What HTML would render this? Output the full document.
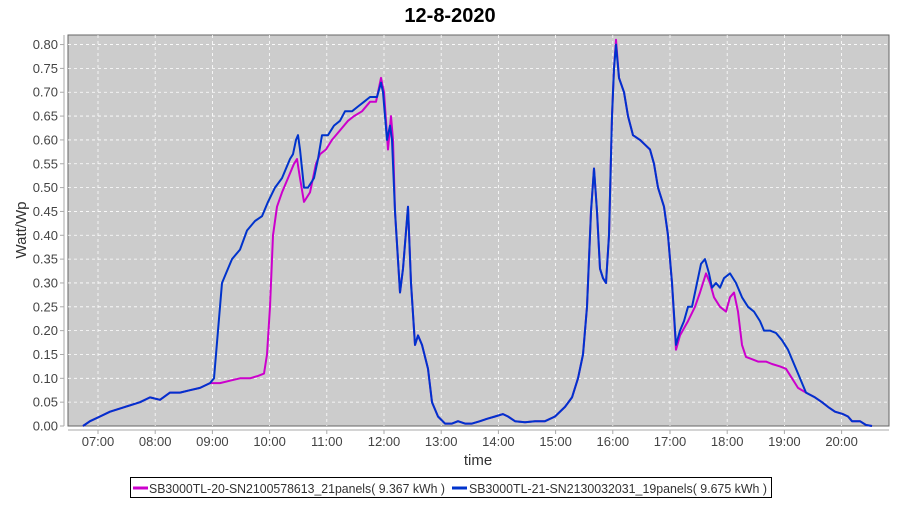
<!DOCTYPE html>
<html><head><meta charset="utf-8"><style>
body{margin:0;background:#fff;width:900px;height:500px;overflow:hidden;font-family:"Liberation Sans",sans-serif}
</style></head><body>
<svg id="s" width="900" height="500" xmlns="http://www.w3.org/2000/svg" font-family="Liberation Sans, sans-serif">
<text x="450" y="22" text-anchor="middle" font-size="20" font-weight="bold">12-8-2020</text>
<rect x="68" y="35" width="821" height="391" fill="#cccccc" stroke="#666" stroke-width="1"/>
<g id="grid" stroke="#fff" stroke-width="0.8" stroke-dasharray="3,3"></g>
<line x1="64" y1="35" x2="64" y2="426" stroke="#aaa"/>
<line x1="68" y1="430" x2="889" y2="430" stroke="#aaa"/>
<g id="ticks" font-size="13" fill="#444"></g>
<text x="478" y="465" text-anchor="middle" font-size="15" fill="#333">time</text>
<text transform="translate(26,230) rotate(-90)" text-anchor="middle" font-size="15" fill="#333">Watt/Wp</text>
<path id="pm" fill="none" stroke="#cc00cc" stroke-width="2" stroke-linejoin="round"/>
<path id="pb" fill="none" stroke="#0033cc" stroke-width="2" stroke-linejoin="round"/>
<rect x="130.5" y="477.5" width="641" height="20" fill="#fff" stroke="#000"/>
<line x1="133" y1="488" x2="148" y2="488" stroke="#cc00cc" stroke-width="3"/>
<text x="149" y="493" font-size="12.5" fill="#333" textLength="296" lengthAdjust="spacingAndGlyphs">SB3000TL-20-SN2100578613_21panels( 9.367 kWh )</text>
<line x1="452" y1="488" x2="467" y2="488" stroke="#0033cc" stroke-width="3"/>
<text x="469" y="493" font-size="12.5" fill="#333" textLength="298" lengthAdjust="spacingAndGlyphs">SB3000TL-21-SN2130032031_19panels( 9.675 kWh )</text>
</svg>
<script>
var Y=v=>426-v*476.8;
var g=document.getElementById('grid'),t=document.getElementById('ticks'),ns='http://www.w3.org/2000/svg';
function el(p,n,a,txt){var e=document.createElementNS(ns,n);for(var k in a)e.setAttribute(k,a[k]);if(txt)e.textContent=txt;p.appendChild(e);}
for(var i=0;i<=16;i++){var v=i*0.05,y=Y(v);if(i>0)el(g,'line',{x1:68,x2:889,y1:y,y2:y});el(t,'line',{x1:60,x2:64,y1:y,y2:y,stroke:'#aaa'});el(t,'text',{x:58,y:y+4.5,'text-anchor':'end'},v.toFixed(2));}
for(var h=7;h<=20;h++){var x=98+(h-7)*57.2;el(g,'line',{x1:x,x2:x,y1:35,y2:426});el(t,'line',{x1:x,x2:x,y1:430,y2:434,stroke:'#aaa'});el(t,'text',{x:x,y:446,'text-anchor':'middle'},(h<10?'0':'')+h+':00');}
var common1=[[83,0],[90,0.01],[100,0.02],[110,0.03],[125,0.04],[140,0.05],[150,0.06],[160,0.055],[170,0.07],[180,0.07],[190,0.075],[200,0.08],[210,0.09]];
var mid=[[395,0.45],[400,0.28],[403,0.33],[408,0.46],[411,0.30],[415,0.17],[418,0.19],[422,0.17],[428,0.12],[432,0.05],[438,0.02],[445,0.005],[452,0.005],[458,0.01],[465,0.005],[472,0.005],[480,0.01],[487,0.015],[495,0.02],[503,0.025],[508,0.02],[515,0.01],[525,0.008],[535,0.01],[545,0.01],[555,0.02],[565,0.04],[572,0.06],[578,0.10],[583,0.15],[587,0.25],[591,0.45],[594,0.54],[597,0.45],[600,0.33],[603,0.31],[606,0.30],[609,0.40],[612,0.65],[614,0.75]];
var aft=[[619,0.73],[624,0.70],[628,0.65],[633,0.61],[640,0.60],[645,0.59],[650,0.58],[654,0.55],[658,0.50],[664,0.46],[668,0.40],[672,0.30]];
var tail=[[806,0.07],[815,0.06],[822,0.05],[828,0.04],[835,0.03],[843,0.025],[848,0.02],[852,0.01],[860,0.01],[866,0.002],[872,0]];
var blue=common1.concat([[214,0.10],[218,0.20],[222,0.30],[226,0.32],[232,0.35],[240,0.37],[247,0.41],[255,0.43],[262,0.44],[268,0.47],[275,0.50],[282,0.52],[290,0.56],[293,0.57],[296,0.60],[298,0.61],[300,0.58],[304,0.50],[308,0.50],[314,0.52],[318,0.56],[322,0.61],[328,0.61],[334,0.63],[340,0.64],[345,0.66],[352,0.66],[358,0.67],[364,0.68],[370,0.69],[377,0.69],[381,0.72],[383,0.70],[387,0.60],[390,0.63],[392,0.60]],mid,[[616,0.80]],aft,[[676,0.17],[680,0.20],[684,0.22],[688,0.25],[692,0.25],[697,0.30],[701,0.34],[705,0.35],[709,0.32],[712,0.29],[716,0.30],[720,0.29],[724,0.31],[730,0.32],[736,0.30],[742,0.27],[748,0.25],[754,0.24],[760,0.22],[764,0.20],[770,0.20],[776,0.195],[782,0.18],[788,0.16],[794,0.13],[800,0.10]],tail);
var mag=common1.concat([[220,0.09],[230,0.095],[240,0.10],[250,0.10],[258,0.105],[264,0.11],[267,0.15],[270,0.25],[273,0.40],[277,0.46],[282,0.49],[288,0.52],[294,0.55],[297,0.56],[300,0.52],[304,0.47],[310,0.49],[316,0.55],[320,0.57],[326,0.58],[332,0.60],[340,0.62],[348,0.64],[354,0.65],[362,0.66],[370,0.68],[376,0.68],[381,0.73],[384,0.70],[388,0.58],[391,0.65],[393,0.60]],mid,[[616,0.81]],aft,[[676,0.16],[680,0.19],[688,0.22],[695,0.25],[700,0.28],[706,0.32],[710,0.30],[714,0.27],[720,0.25],[726,0.24],[730,0.27],[734,0.28],[738,0.24],[742,0.17],[746,0.145],[752,0.14],[758,0.135],[766,0.135],[772,0.13],[780,0.125],[786,0.12],[792,0.10],[798,0.08]],tail);
function d(a){return a.map((p,i)=>(i?'L':'M')+p[0]+','+Y(p[1]).toFixed(1)).join('');}
document.getElementById('pm').setAttribute('d',d(mag));
document.getElementById('pb').setAttribute('d',d(blue));
</script>
</body></html>
